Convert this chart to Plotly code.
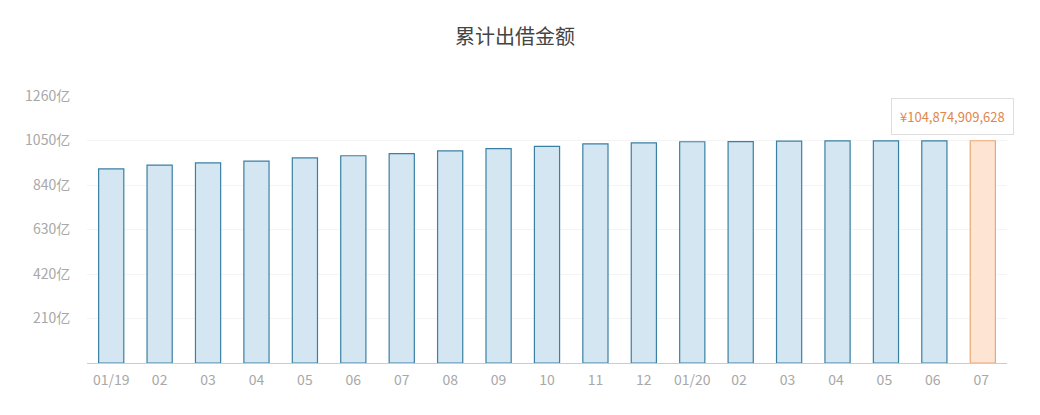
import plotly.graph_objects as go

# monthly cumulative lending amount, in 亿 (1e8 yuan)
months = ["01/19", "02", "03", "04", "05", "06", "07", "08", "09", "10",
          "11", "12", "01/20", "02 ", "03 ", "04 ", "05 ", "06 ", "07 "]
amount_yi = [916, 934, 944, 953, 968, 978, 988, 1001, 1012, 1022,
             1034, 1039, 1044, 1045, 1047, 1048, 1048.3, 1048.5, 1048.74909628]
y_ticks = [0, 210, 420, 630, 840, 1050, 1260]
y_ticktext = ["" if v == 0 else f"{v}亿" for v in y_ticks]
latest_yuan = 104874909628

font = "Noto Sans CJK SC"
n = len(months)
fill = ["#d3e6f2"] * (n - 1) + ["#fde4d3"]
edge = ["#3a80a3"] * (n - 1) + ["#eaa874"]

fig = go.Figure()
fig.add_trace(go.Bar(
    x=list(range(n)), y=amount_yi,
    marker=dict(color=fill, line=dict(color=edge, width=1.2)),
    hoverinfo="skip",
))

# tooltip-like label over the latest bar
fig.add_annotation(
    x=n - 1, y=amount_yi[-1],
    text=f"¥{latest_yuan:,}",
    showarrow=False, yanchor="bottom", yshift=6, xshift=-30,
    font=dict(family=font, size=13, color="#e0874c"),
    bgcolor="white", bordercolor="#dedede", borderwidth=1, borderpad=8,
)

fig.update_layout(
    width=1040, height=415,
    margin=dict(l=79, r=41, t=88, b=60),
    paper_bgcolor="white", plot_bgcolor="white",
    showlegend=False, bargap=0.48,
    title=dict(text="累计出借金额", x=0.4875, xanchor="center", y=0.93, yanchor="middle",
               font=dict(family=font, size=20, color="#444444")),
    font=dict(family=font, size=14, color="#a8a8a8"),
)
fig.update_xaxes(
    tickvals=list(range(n)), ticktext=months, range=[-0.5, n - 0.5],
    showgrid=False, showline=True, linecolor="#cccccc", linewidth=1,
    ticks="outside", ticklen=4, tickcolor="rgba(0,0,0,0)",
    tickfont=dict(size=14, color="#a8a8a8"),
)
fig.update_yaxes(
    range=[0, 1260], tickvals=y_ticks, ticktext=y_ticktext,
    showgrid=True, gridcolor="#f4f4f4", zeroline=False, showline=False,
    ticks="outside", ticklen=13, tickcolor="rgba(0,0,0,0)",
    tickfont=dict(size=14, color="#a8a8a8"),
)

fig.write_html("out.html")
